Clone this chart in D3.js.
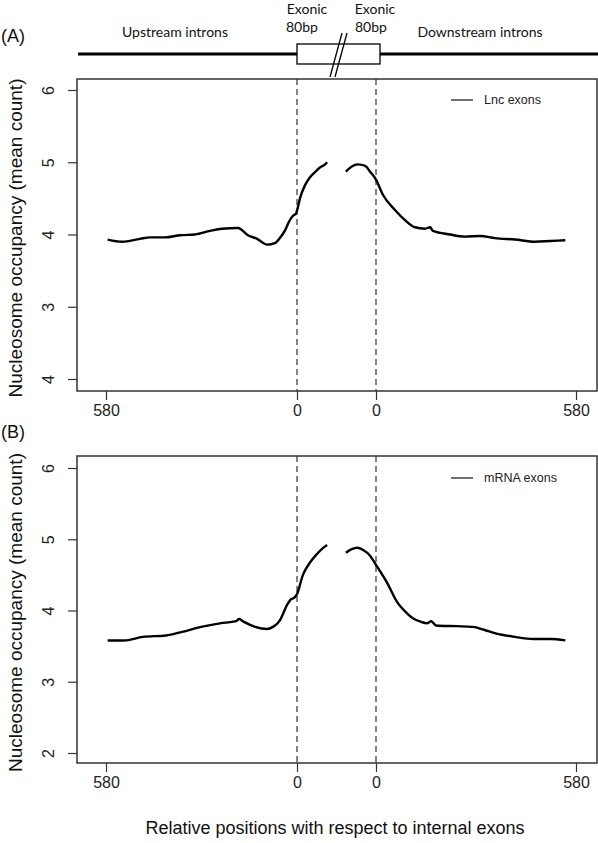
<!DOCTYPE html>
<html><head><meta charset="utf-8">
<script src="https://cdn.jsdelivr.net/npm/d3@7"></script>
<style>body{margin:0;background:#fff}svg{display:block}</style>
</head><body>
<script>
// ---- data ----
const xTickValues = [-580, 0, 160, 740];
const xTickLabels = ["580", "0", "0", "580"];
const yTickValues = [2, 3, 4, 5, 6];
const yTickLabelsA = ["4", "3", "4", "5", "6"];
const yTickLabelsB = ["2", "3", "4", "5", "6"];
const legendA = "Lnc exons";
const legendB = "mRNA exons";

// positions: upstream intron -580..0, exon 0..160, downstream 160..740 ; null = gap
const posA = [-575,-531,-477,-446,-401,-355,-310,-264,-228,-179,-149,-121,-91,-67,-52,-36,-24,-12,-3,0,
  6,16,26,36,47,57,61, 80,
  99,111,123,138,148,160,
  180,215,244,273,302,317,325,375,418,462,505,563,621,665,709];
const valA = [3.93,3.90,3.94,3.96,3.96,3.99,4.00,4.05,4.08,4.09,3.99,3.94,3.86,3.88,3.95,4.06,4.18,4.26,4.29,4.33,
  4.50,4.68,4.79,4.86,4.93,4.97,5.00, null,
  4.87,4.94,4.97,4.95,4.87,4.76,
  4.55,4.34,4.20,4.10,4.08,4.10,4.05,4.00,3.97,3.98,3.95,3.93,3.90,3.91,3.92];

const posB = [-575,-525,-468,-398,-349,-291,-234,-185,-176,-161,-127,-91,-73,-52,-40,-30,-20,-8,0,
  12,26,40,53,61, 80,
  99,111,122,134,148,160,
  192,221,250,267,291,308,320,334,395,441,473,507,562,617,666,709];
const valB = [3.58,3.58,3.63,3.65,3.70,3.77,3.82,3.85,3.88,3.84,3.77,3.74,3.77,3.86,3.98,4.08,4.15,4.18,4.23,
  4.50,4.67,4.79,4.88,4.92, null,
  4.81,4.86,4.88,4.85,4.77,4.64,
  4.39,4.12,3.96,3.89,3.84,3.82,3.85,3.79,3.78,3.77,3.73,3.68,3.63,3.60,3.60,3.58];

// ---- drawing ----
const W = 598, H = 843;
const svg = d3.select("body").append("svg").attr("width", W).attr("height", H);
const sans = "'Liberation Sans', Arial, sans-serif";
const hfont = "Lato, 'Open Sans', sans-serif";

const x = d3.scaleLinear().domain(xTickValues).range([106, 297, 376, 576]);
const boxL = 77, boxR = 597;

function panel(top, bottom, y, pos, val, tickLabels, legendText, legY, tag, tagY) {
  const g = svg.append("g");
  // frame
  g.append("rect").attr("x", boxL).attr("y", top).attr("width", boxR - boxL).attr("height", bottom - top)
    .attr("fill", "none").attr("stroke", "#333").attr("stroke-width", 1.5);
  // y axis
  const ya = d3.axisLeft(y).tickValues(yTickValues).tickSize(9).tickPadding(13)
    .tickFormat((d, i) => tickLabels[i]);
  const yg = g.append("g").attr("transform", `translate(${boxL},0)`).call(ya);
  yg.select(".domain").remove();
  yg.selectAll("line").attr("stroke", "#333").attr("stroke-width", 1.2);
  yg.selectAll("text").attr("font-family", sans).attr("font-size", 16).attr("fill", "#222")
    .attr("text-anchor", "middle").attr("x", -29).attr("dy", "0.35em")
    .attr("transform", "rotate(-90, -29, 0)");
  // x axis
  const xa = d3.axisBottom(x).tickValues(xTickValues).tickSize(9).tickPadding(5)
    .tickFormat((d, i) => xTickLabels[i]);
  const xg = g.append("g").attr("transform", `translate(0,${bottom})`).call(xa);
  xg.select(".domain").remove();
  xg.selectAll("line").attr("stroke", "#333").attr("stroke-width", 1.2);
  xg.selectAll("text").attr("font-family", sans).attr("font-size", 16).attr("fill", "#222");
  // dashed lines
  [0, 160].forEach(v => {
    g.append("line").attr("x1", x(v)).attr("x2", x(v)).attr("y1", top).attr("y2", bottom)
      .attr("stroke", "#333").attr("stroke-width", 1.2).attr("stroke-dasharray", "6,4");
  });
  // curve
  const data = pos.map((p, i) => [p, val[i]]);
  const line = d3.line().defined(d => d[1] !== null).x(d => x(d[0])).y(d => y(d[1]))
    .curve(d3.curveMonotoneX);
  g.append("path").datum(data).attr("d", line).attr("fill", "none")
    .attr("stroke", "#000").attr("stroke-width", 2.4).attr("stroke-linejoin", "round");
  // legend
  g.append("line").attr("x1", 451).attr("x2", 473).attr("y1", legY).attr("y2", legY)
    .attr("stroke", "#222").attr("stroke-width", 1.3);
  g.append("text").attr("x", 484).attr("y", legY).attr("dy", "0.35em").attr("font-family", sans)
    .attr("font-size", 12.5).attr("fill", "#222").text(legendText);
  // y title
  g.append("text").attr("transform", `translate(15,${(top + bottom) / 2 + 3}) rotate(-90)`)
    .attr("text-anchor", "middle").attr("dy", "0.35em").attr("font-family", sans).attr("font-size", 19)
    .attr("fill", "#111").text("Nucleosome occupancy (mean count)");
  // tag
  g.append("text").attr("x", 1).attr("y", tagY).attr("dy", "0.35em").attr("font-family", sans)
    .attr("font-size", 18).attr("fill", "#111").text(tag);
}

const yA = d3.scaleLinear().domain([2, 6]).range([379, 90]);
const yB = d3.scaleLinear().domain([2, 6]).range([753, 468]);
panel(79, 391, yA, posA, valA, yTickLabelsA, legendA, 100, "(A)", 36);
panel(456, 763, yB, posB, valB, yTickLabelsB, legendB, 478, "(B)", 432);

// x title
svg.append("text").attr("x", 335).attr("y", 828).attr("dy", "0.35em").attr("text-anchor", "middle")
  .attr("font-family", sans).attr("font-size", 18).attr("fill", "#111")
  .text("Relative positions with respect to internal exons");

// ---- header schematic ----
const hy = 54;
svg.append("line").attr("x1", 78).attr("x2", 297).attr("y1", hy).attr("y2", hy).attr("stroke", "#000").attr("stroke-width", 3);
svg.append("line").attr("x1", 380).attr("x2", 598).attr("y1", hy).attr("y2", hy).attr("stroke", "#000").attr("stroke-width", 3);
svg.append("rect").attr("x", 297).attr("y", 44).attr("width", 83).attr("height", 20)
  .attr("fill", "#fff").attr("stroke", "#000").attr("stroke-width", 1.3);
svg.append("line").attr("x1", 330).attr("y1", 77).attr("x2", 342).attr("y2", 33).attr("stroke", "#000").attr("stroke-width", 1.3);
svg.append("line").attr("x1", 335).attr("y1", 77).attr("x2", 347).attr("y2", 33).attr("stroke", "#000").attr("stroke-width", 1.3);
const hdr = [
  {t: "Upstream introns", x: 175, y: 37, a: "middle"},
  {t: "Exonic", x: 307, y: 14, a: "middle"},
  {t: "80bp", x: 286, y: 32, a: "start"},
  {t: "Exonic", x: 375, y: 14, a: "middle"},
  {t: "80bp", x: 355, y: 32, a: "start"},
  {t: "Downstream introns", x: 480, y: 37, a: "middle"}
];
svg.selectAll("text.hdr").data(hdr).enter().append("text").attr("class", "hdr")
  .attr("x", d => d.x).attr("y", d => d.y).attr("text-anchor", d => d.a)
  .attr("font-family", hfont).attr("font-size", 14).attr("fill", "#111").text(d => d.t);
</script>
</body></html>
